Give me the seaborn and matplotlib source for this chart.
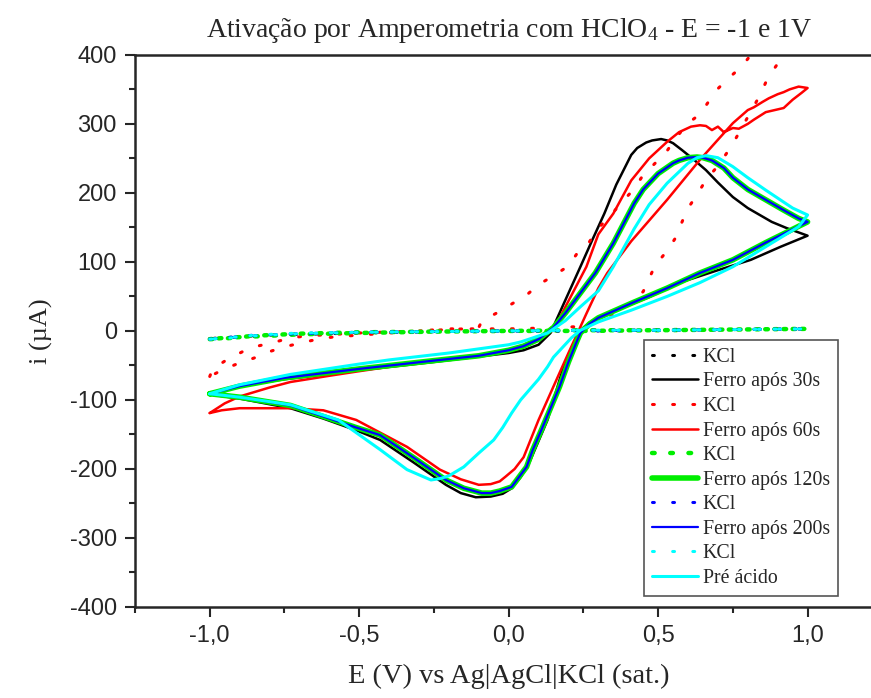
import numpy as np
import pandas as pd
import matplotlib
matplotlib.use('Agg')
import matplotlib.pyplot as plt
import seaborn as sns
from matplotlib.ticker import MultipleLocator, FixedLocator, FixedFormatter

# ---- data (E in V, i in uA) ----
# Ferro apos 30s (black)
e_30_fwd = [-1.0, -0.9, -0.75, -0.5, -0.25, 0.0, 0.05, 0.1, 0.14, 0.19, 0.24, 0.28, 0.32, 0.36, 0.41,
            0.43, 0.46, 0.48, 0.51, 0.53, 0.55, 0.58, 0.62, 0.66, 0.70, 0.75, 0.80, 0.84, 0.88, 0.93, 1.0]
i_30_fwd = [-92, -80, -70, -57, -45, -32, -28, -20, -3, 45, 93, 132, 170, 212, 255,
            265, 273, 276, 278, 276, 272, 262, 248, 233, 215, 194, 178, 168, 158, 149, 138]
e_30_rev = [1.0, 0.91, 0.81, 0.70, 0.58, 0.47, 0.36, 0.30, 0.27, 0.24, 0.21, 0.18, 0.13, 0.07, 0.04,
            0.01, -0.02, -0.06, -0.11, -0.16, -0.21, -0.26, -0.32, -0.43, -0.51, -0.62, -0.73, -0.9, -1.0]
i_30_rev = [138, 122, 103, 88, 71, 49, 30, 19, 12, 1, -25, -57, -129, -190, -212,
            -228, -236, -240, -241, -235, -223, -208, -190, -158, -144, -127, -112, -98, -92]

# Ferro apos 60s (red)
e_60_fwd = [-1.0, -0.95, -0.9, -0.8, -0.73, -0.6, -0.51, -0.4, -0.25, -0.1, 0.0, 0.05, 0.1, 0.15, 0.19,
            0.26, 0.30, 0.35, 0.41, 0.47, 0.53, 0.57, 0.61, 0.64, 0.66, 0.68, 0.70, 0.72, 0.75, 0.77,
            0.80, 0.82, 0.86, 0.89, 0.92, 0.95, 0.98, 1.0]
i_60_fwd = [-119, -105, -95, -82, -74, -65, -59, -52, -44, -36, -28, -22, -10, 1, 35,
            93, 140, 170, 218, 250, 274, 288, 296, 298, 297, 291, 296, 288, 294, 293,
            300, 306, 317, 320, 323, 335, 345, 352]
e_60_rev = [1.0, 0.97, 0.94, 0.92, 0.90, 0.87, 0.85, 0.82, 0.80, 0.75, 0.70, 0.64, 0.53, 0.41, 0.33,
            0.30, 0.26, 0.24, 0.22, 0.20, 0.17, 0.10, 0.05, 0.02, -0.01, -0.03, -0.06, -0.10, -0.16,
            -0.23, -0.34, -0.51, -0.62, -0.73, -0.9, -0.96, -1.0]
i_60_rev = [352, 354, 350, 346, 343, 337, 332, 324, 320, 301, 277, 248, 190, 130, 84,
            62, 25, 6, -13, -32, -61, -129, -183, -200, -211, -218, -222, -223, -215,
            -201, -168, -129, -115, -112, -112, -115, -119]

# Ferro apos 120s (green) and 200s (blue) - almost on top of each other
e_120_fwd = [-1.0, -0.9, -0.75, -0.5, -0.25, -0.1, 0.0, 0.05, 0.1, 0.15, 0.19, 0.24, 0.29, 0.35,
             0.42, 0.45, 0.5, 0.55, 0.57, 0.6, 0.63, 0.65, 0.68, 0.72, 0.75, 0.8, 0.86, 0.92, 0.97, 1.0]
i_120_fwd = [-91, -80, -68, -55, -43, -36, -28, -22, -12, 5, 26, 55, 84, 127,
             185, 205, 228, 243, 247, 251, 252, 251, 247, 236, 222, 205, 190, 175, 163, 158]
e_120_rev = [1.0, 0.86, 0.75, 0.64, 0.53, 0.41, 0.30, 0.27, 0.24, 0.23, 0.20, 0.17, 0.11, 0.08, 0.06,
             0.01, -0.03, -0.06, -0.09, -0.15, -0.21, -0.32, -0.43, -0.51, -0.62, -0.73, -0.9, -1.0]
i_120_rev = [158, 128, 103, 84, 62, 40, 19, 10, -3, -13, -45, -81, -143, -173, -197,
             -226, -232, -235, -235, -228, -216, -183, -151, -140, -124, -108, -96, -91]

e_200_fwd = e_120_fwd
i_200_fwd = [-91, -80, -68, -55, -43, -36, -28, -22, -12, 5, 26, 55, 84, 127,
             185, 205, 228, 243, 247, 251, 252, 251, 247, 236, 222, 205, 190, 175, 163, 158]
e_200_rev = e_120_rev
i_200_rev = [158, 128, 103, 84, 62, 40, 19, 10, -3, -13, -45, -81, -143, -173, -197,
             -226, -232, -235, -235, -228, -216, -183, -151, -140, -124, -108, -96, -91]

# Pre acido (cyan)
e_pre_fwd = [-1.0, -0.9, -0.73, -0.5, -0.4, -0.2, 0.0, 0.04, 0.13, 0.19, 0.24, 0.30, 0.35, 0.42,
             0.47, 0.53, 0.6, 0.63, 0.66, 0.7, 0.75, 0.8, 0.86, 0.95, 1.0]
i_pre_fwd = [-91, -78, -63, -48, -42, -32, -20, -16, -3, 15, 35, 58, 93, 148,
             183, 214, 243, 251, 254, 251, 238, 222, 204, 178, 168]
e_pre_rev = [1.0, 0.97, 0.86, 0.75, 0.64, 0.53, 0.41, 0.30, 0.24, 0.21, 0.15, 0.13, 0.10, 0.04, 0.01,
             -0.02, -0.05, -0.10, -0.15, -0.20, -0.23, -0.26, -0.34, -0.43, -0.57, -0.73, -0.9, -1.0]
i_pre_rev = [168, 151, 122, 93, 70, 50, 30, 13, 1, -10, -38, -52, -70, -100, -119,
             -140, -158, -177, -197, -210, -214, -216, -201, -172, -129, -107, -96, -91]

# KCl blanks
e_kcl_red_fwd = [-1.0, -0.99, -0.94, -0.89, -0.84, -0.78, -0.73, -0.67, -0.5, -0.3, -0.15, -0.1,
                 -0.09, -0.04, 0.01, 0.06, 0.10, 0.15, 0.20, 0.23, 0.27, 0.30, 0.34, 0.38, 0.42,
                 0.45, 0.49, 0.53, 0.56, 0.60, 0.64, 0.67, 0.70, 0.74, 0.78, 0.81, 0.84]
i_kcl_red_fwd = [-66, -55, -41, -30, -22, -16, -10, -7, -3, 0, 3, 5,
                 14, 26, 39, 52, 67, 80, 94, 113, 129, 149, 167, 187, 206,
                 226, 243, 261, 280, 301, 314, 333, 351, 368, 383, 400, 420]
e_kcl_red_rev = [0.94, 0.92, 0.89, 0.86, 0.84, 0.80, 0.76, 0.73, 0.70, 0.66, 0.63, 0.60, 0.58, 0.56,
                 0.53, 0.49, 0.45, 0.41, 0.37, 0.30, 0.22, 0.1, 0.0, -0.2, -0.4, -0.53, -0.59, -0.64,
                 -0.69, -0.75, -0.80, -0.85, -0.91, -0.96, -1.0]
i_kcl_red_rev = [420, 400, 381, 360, 341, 310, 279, 258, 239, 219, 197, 178, 158, 136,
                 116, 95, 57, 40, 28, 15, 6, 4, 3, 3, -3, -7, -9, -12,
                 -17, -23, -30, -39, -48, -57, -66]

e_kcl_flat = [-1.0, -0.95, -0.85, -0.7, -0.5, -0.25, 0.0, 0.25, 0.5, 0.75, 1.0,
              1.0, 0.75, 0.5, 0.25, 0.0, -0.25, -0.5, -0.7, -0.85, -0.95, -1.0]
i_kcl_black = [-11, -10, -7, -4, -2, -1, 0, 1, 1, 2, 3, 3, 2, 1, 0, 0, -1, -3, -5, -8, -10, -11]
i_kcl_green = [-12, -11, -7, -4, -2, -1, 0, 1, 1, 2, 3, 3, 2, 1, 0, 0, -1, -3, -5, -8, -10, -12]
i_kcl_blue = [-12, -10, -6, -4, -2, -1, 0, 1, 1, 2, 3, 3, 2, 1, 0, 0, -1, -2, -4, -7, -10, -12]
i_kcl_cyan = [-12, -11, -6, -3, -2, -1, 0, 1, 1, 2, 3, 3, 2, 1, 1, 0, -1, -2, -4, -7, -10, -12]


def cv(e_fwd, i_fwd, e_rev=None, i_rev=None):
    e = list(e_fwd) + (list(e_rev) if e_rev else [])
    i = list(i_fwd) + (list(i_rev) if i_rev else [])
    return pd.DataFrame({'E': e, 'i': i})


sns.set_style('ticks')
plt.rcParams['font.family'] = ['Liberation Sans', 'DejaVu Sans']
plt.rcParams['mathtext.fontset'] = 'custom'
plt.rcParams['mathtext.rm'] = 'Liberation Serif'
plt.rcParams['mathtext.it'] = 'Liberation Serif'

fig = plt.figure(figsize=(8.71, 6.98), dpi=100)
ax = fig.add_axes([0.155, 0.1304, 0.858, 0.791])

dot = (0, (0.6, 6))
series = [
    (cv(e_kcl_flat, i_kcl_black), 'black', 2.2, dot, 'KCl'),
    (cv(e_30_fwd, i_30_fwd, e_30_rev, i_30_rev), 'black', 1.8, '-', 'Ferro após 30s'),
    (cv(e_kcl_red_fwd, i_kcl_red_fwd, e_kcl_red_rev, i_kcl_red_rev), 'red', 2.2, dot, 'KCl'),
    (cv(e_60_fwd, i_60_fwd, e_60_rev, i_60_rev), 'red', 1.8, '-', 'Ferro após 60s'),
    (cv(e_kcl_flat, i_kcl_green), '#00ee00', 3.2, (0, (0.6, 3.5)), 'KCl'),
    (cv(e_120_fwd, i_120_fwd, e_120_rev, i_120_rev), '#00ee00', 4.0, '-', 'Ferro após 120s'),
    (cv(e_kcl_flat, i_kcl_blue), '#0000ff', 2.2, dot, 'KCl'),
    (cv(e_200_fwd, i_200_fwd, e_200_rev, i_200_rev), '#0000ff', 1.6, '-', 'Ferro após 200s'),
    (cv(e_kcl_flat, i_kcl_cyan), '#00ffff', 2.2, dot, 'KCl'),
    (cv(e_pre_fwd, i_pre_fwd, e_pre_rev, i_pre_rev), '#00ffff', 2.2, '-', 'Pré ácido'),
]

for df, color, lw, ls, label in series:
    sns.lineplot(data=df, x='E', y='i', sort=False, estimator=None, ax=ax,
                 color=color, linewidth=lw, linestyle=ls, label=label,
                 dash_capstyle='round', solid_capstyle='round', solid_joinstyle='round')

ax.set_xlim(-1.25, 1.25)
ax.set_ylim(-400, 400)

xt = [-1.0, -0.5, 0.0, 0.5, 1.0]
ax.xaxis.set_major_locator(FixedLocator(xt))
ax.xaxis.set_major_formatter(FixedFormatter(['-1,0', '-0,5', '0,0', '0,5', '1,0']))
ax.xaxis.set_minor_locator(MultipleLocator(0.25))
yt = list(range(-400, 401, 100))
ax.yaxis.set_major_locator(FixedLocator(yt))
ax.yaxis.set_major_formatter(FixedFormatter([str(v) for v in yt]))
ax.yaxis.set_minor_locator(MultipleLocator(50))

ax.tick_params(which='major', direction='out', length=7, width=1.5, labelsize=17, pad=6)
ax.tick_params(which='minor', direction='out', length=4, width=1.5)
for s in ax.spines.values():
    s.set_linewidth(1.8)

serif = ['Liberation Serif', 'DejaVu Serif']
ax.set_title(r'Ativação por Amperometria com HClO$_4$ - E = -1 e 1V',
             fontsize=20, family=serif, pad=13)
ax.set_xlabel('E (V) vs Ag|AgCl|KCl (sat.)', fontsize=20.5, family=serif, labelpad=12)
ax.set_ylabel('i (µA)', fontsize=19, family=serif, labelpad=12)

leg = ax.legend(loc='upper right', bbox_to_anchor=(0.962, 0.513), bbox_transform=fig.transFigure,
                borderaxespad=0, fancybox=False, framealpha=1, edgecolor='#555555',
                prop={'family': serif, 'size': 14.3}, handlelength=2.3, labelspacing=0.28,
                handletextpad=0.25, borderpad=0.4)
leg.get_frame().set_linewidth(1.2)

fig.savefig('out.png', dpi=100)
